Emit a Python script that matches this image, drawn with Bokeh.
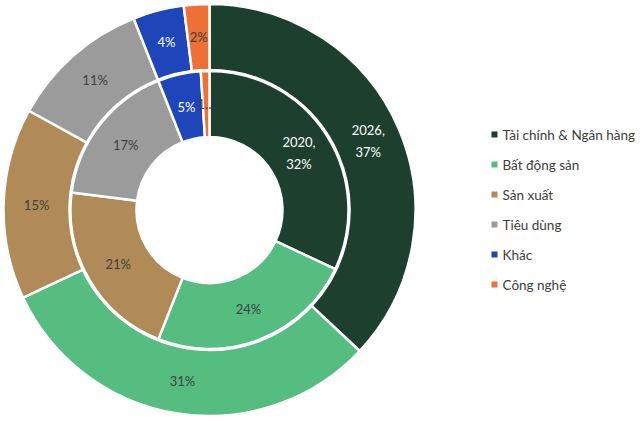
import numpy as np
from bokeh.plotting import figure
from bokeh.models import Range1d, ColumnDataSource
from bokeh.core.properties import value
from bokeh.embed import file_html
from bokeh.resources import INLINE

# Sector shares, 2020 (inner ring) and 2026 (outer ring)
categories = ["Tài chính & Ngân hàng", "Bất động sản", "Sản xuất", "Tiêu dùng", "Khác", "Công nghệ"]
share_2020 = [32, 24, 21, 17, 5, 1]
share_2026 = [37, 31, 15, 11, 4, 2]
colors = ["#1D3F2E", "#55BD80", "#B08A57", "#9B9B9B", "#1E45BA", "#EE7034"]
label_colors = ["white", "#404040", "#404040", "#404040", "white", "#404040"]

W, H = 640, 421
cx, cy = 209, H - 209.5
ring_out = (140, 206)
ring_in = (73, 139)

p = figure(width=W, height=H, output_backend="svg", toolbar_location=None,
           x_range=Range1d(0, W), y_range=Range1d(0, H), min_border=0)
p.axis.visible = False
p.grid.visible = False
p.outline_line_color = None
p.background_fill_color = "white"


def ring(values, radii, year_tag):
    vals = np.array(values, dtype=float)
    frac = vals / vals.sum()
    cum = np.cumsum(frac)
    prev = cum - frac
    start = np.pi / 2 - prev * 2 * np.pi
    end = np.pi / 2 - cum * 2 * np.pi
    mid = (start + end) / 2
    src = ColumnDataSource(dict(start=start, end=end, color=colors))
    p.annular_wedge(x=cx, y=cy, inner_radius=radii[0], outer_radius=radii[1],
                    start_angle="start", end_angle="end", direction="clock",
                    fill_color="color", line_color="white", line_width=2.5,
                    source=src)
    r_lab = (radii[0] + radii[1]) / 2
    texts = []
    for i, v in enumerate(values):
        if i == 0:
            texts.append(f"{year_tag},\n{v}%")
        elif v < 2:
            texts.append(f"{v}…")
        else:
            texts.append(f"{v}%")
    lsrc = ColumnDataSource(dict(x=cx + r_lab * np.cos(mid), y=cy + r_lab * np.sin(mid),
                                 t=texts, c=label_colors))
    p.text(x="x", y="y", text="t", text_color="c", source=lsrc,
           text_align="center", text_baseline="middle",
           text_font=value("Lato"), text_font_size="13px", text_line_height=1.4)


ring(share_2026, ring_out, "2026")
ring(share_2020, ring_in, "2020")

# Legend on the right
leg_x, leg_y0, leg_dy = 494, H - 134, 30
ly = [leg_y0 - i * leg_dy for i in range(len(categories))]
p.scatter(x=[leg_x] * len(categories), y=ly, marker="square", size=6,
          fill_color=colors, line_color=None)
p.text(x=[leg_x + 8] * len(categories), y=ly, text=categories,
       text_color="#404040", text_align="left", text_baseline="middle",
       text_font=value("Lato"), text_font_size="13.5px")

open("out.html", "w").write(file_html(p, INLINE))
